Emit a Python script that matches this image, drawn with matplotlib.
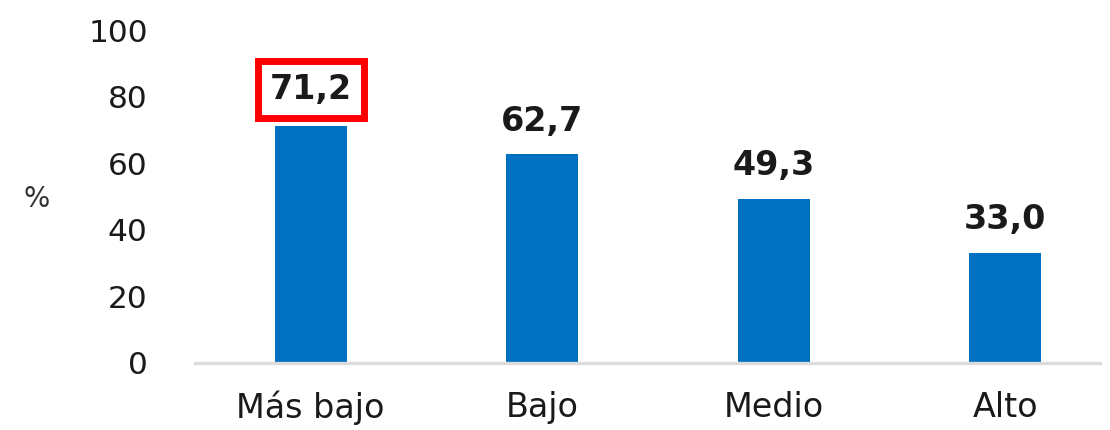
import matplotlib
matplotlib.use("Agg")
import matplotlib.pyplot as plt

categories = ["Más bajo", "Bajo", "Medio", "Alto"]
values = [71.2, 62.7, 49.3, 33.0]
labels = ["71,2", "62,7", "49,3", "33,0"]
yticks = [0, 20, 40, 60, 80, 100]

bar_color = "#0070C0"

fig = plt.figure(figsize=(11.1, 4.3), dpi=100)
ax = fig.add_axes([195 / 1110, 67 / 430, (1100 - 195) / 1110, (363 - 30) / 430])

x = list(range(len(categories)))
ax.bar(x, values, width=0.31, color=bar_color, zorder=2)

ax.set_xlim(-0.5, 3.41)
ax.set_ylim(0, 100)
ax.set_yticks(yticks)
ax.set_yticklabels([str(t) for t in yticks])
ax.set_xticks(x)
ax.set_xticklabels(categories)
ax.tick_params(axis="y", length=0, pad=34, labelsize=22.5, labelcolor="#1a1a1a")
ax.tick_params(axis="x", length=0, pad=20, labelsize=24, labelcolor="#1a1a1a")

for side in ("top", "right", "left"):
    ax.spines[side].set_visible(False)
ax.spines["bottom"].set_color("#dcdcdc")
ax.spines["bottom"].set_linewidth(2.4)

for i, (v, lab) in enumerate(zip(values, labels)):
    kw = {}
    if i == 0:
        kw["bbox"] = dict(boxstyle="square,pad=0.36", fc="white", ec="#ff0000", lw=5)
    ax.annotate(lab, (i, v), xytext=(0, 14 if i == 0 else 12), textcoords="offset points",
                ha="center", va="bottom", fontsize=24, fontweight="bold",
                color="#1a1a1a", zorder=3, **kw)

fig.text(37 / 1110, 1 - 199 / 430, "%", ha="center", va="center", fontsize=20, color="#333333")

fig.savefig("out.png", dpi=100)
